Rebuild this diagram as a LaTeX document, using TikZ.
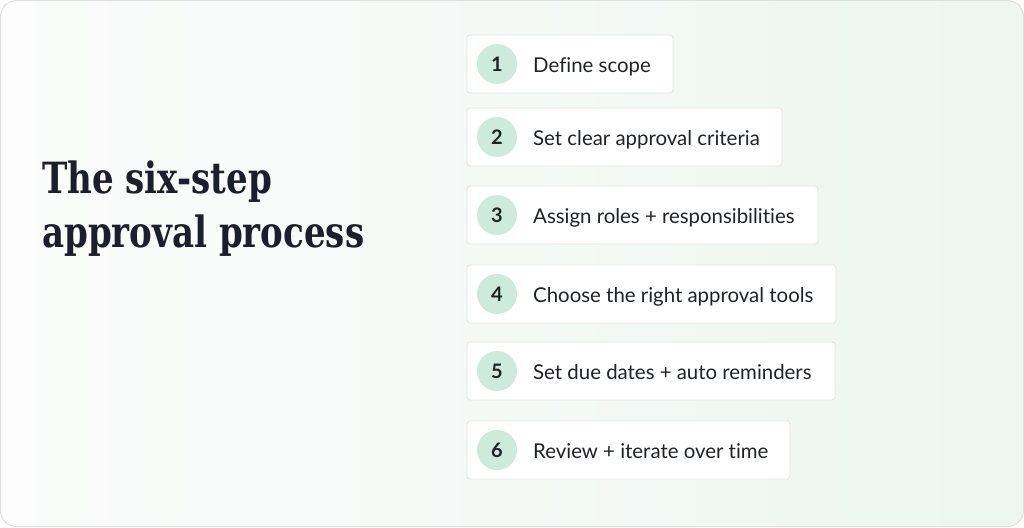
\documentclass[tikz,border=0pt]{standalone}
\usepackage{fontspec}
\setmainfont{Lato}[Ligatures=NoCommon]
\newfontfamily\titlefont{DejaVu Serif Condensed}[FakeStretch=0.88]
\definecolor{bgA}{HTML}{FBFCFB}
\definecolor{bgB}{HTML}{EDF6F1}
\definecolor{frame}{HTML}{DCE0DE}
\definecolor{boxline}{HTML}{E2E7E4}
\definecolor{mint}{HTML}{CDEBDA}
\definecolor{ink}{HTML}{1F2326}
\definecolor{titleink}{HTML}{1B1E2B}
\begin{document}
\begin{tikzpicture}[x=1pt,y=-1pt,
  stepbox/.style={draw=boxline,line width=0.9pt,fill=white,rounded corners=3pt},
  numdisc/.style={circle,fill=mint,minimum size=40pt,inner sep=0pt,font=\fontsize{20}{24}\selectfont\bfseries,text=ink},
  steptext/.style={anchor=base west,inner sep=0pt,font=\fontsize{20.4}{24}\selectfont,text=ink}]
\useasboundingbox (0,0) rectangle (1024,527);
\shade[shading=axis,shading angle=-60,left color=bgA,right color=bgB,draw=frame,line width=1pt,rounded corners=16pt]
  (0.5,0.5) rectangle (1023.5,526.5);
\node[anchor=base west,inner sep=0pt,text=titleink] (title) at (42,193)
  {\titlefont\bfseries\fontsize{43}{54}\selectfont The six-step};
\node[anchor=base west,inner sep=0pt,text=titleink] (title2) at (42,247)
  {\titlefont\bfseries\fontsize{43}{54}\selectfont approval process};
\foreach \n/\top/\right/\txt in {1/35/673/Define scope,2/108/782/Set clear approval criteria,3/186/818/Assign roles + responsibilities,4/265/836/Choose the right approval tools,5/342/835/Set due dates + auto reminders,6/421/790/Review + iterate over time}{
  \draw[stepbox] (467,\top) rectangle (\right,\top+58);
  \node[numdisc] (c\n) at (497,\top+29) {\n};
  \node[steptext] (t\n) at (533,\top+37) {\txt};
}
\end{tikzpicture}
\end{document}
